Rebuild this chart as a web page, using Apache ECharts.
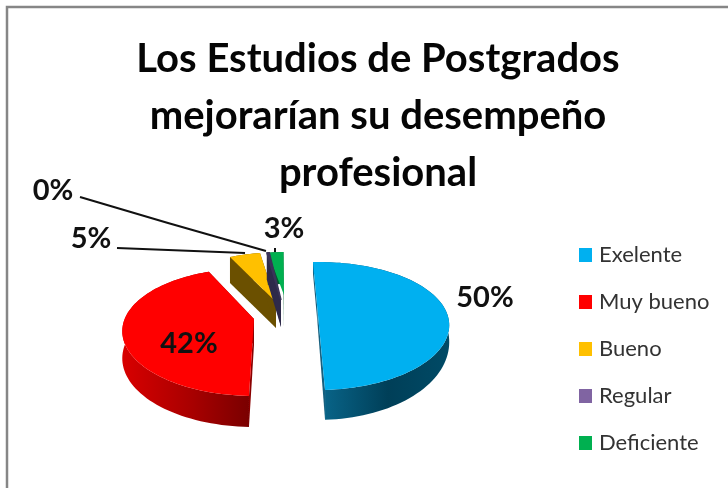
<!DOCTYPE html>
<html><head><meta charset="utf-8">
<style>html,body{margin:0;padding:0;background:#fff}#c{width:728px;height:488px}</style>
<script src="https://cdn.jsdelivr.net/npm/echarts@6/dist/echarts.min.js"></script>
</head><body><div id="c"></div>
<script>
const titleLines = ['Los Estudios de Postgrados','mejorarían su desempeño','profesional'];
const categories = ['Exelente','Muy bueno','Bueno','Regular','Deficiente'];
const values = [50,42,5,0.4,2.6];
const colors = ['#00B0F0','#FF0000','#FFC000','#8064A2','#00B050'];
const startAngle = -2.7;

// Drawing layout of the exploded, tilted pie
const R = 128, Ry = 64, K = 0.25;
const layout = [
 {cx:317.5,cy:310,tip:[317.5,310],d0:13,d1:17,rot:0,z:2,face:'#17607f',wall:['#0a6a90','#003f58','#004a66']},
 {cx:254,cy:316,tip:[254,319],d0:26,d1:5,rot:4.5,z:2,face:'#8a0000',wall:['#d80000','#a80000','#7a0000']},
 {cx:282.6,cy:300,tip:[276,302],d0:26,d1:0,rot:0,z:3,face:'#6b5000',wall:['#6b5000','#6b5000','#6b5000']},
 {cx:289.5,cy:300,tip:[281,300],d0:27,d1:0,rot:0,z:5,face:'#2e2a4a',wall:['#2e2a4a','#2e2a4a','#2e2a4a'],top:'#3a3358',edge:1.5},
 {cx:288,cy:300,tip:[284,295],d0:32,d1:0,rot:0,z:4,face:'#00592c',wall:['#00592c','#00592c','#00592c'],hideFirst:true}
];
const labelPos = [
 {x:485,y:298},{x:189,y:344},{x:91,y:239,line:[[117,248],[245,253]]},
 {x:53,y:191,line:[[80,197],[168,223],[266,251]]},{x:284,y:229,line:[[275,248],[275,252]]}
];
const total = values.reduce((a,b)=>a+b,0);
const starts = []; values.reduce((a,v,i)=>(starts[i]=a,a+v/total*360),startAngle);

function rimPoint(l,deg){
  const t=deg*Math.PI/180,X=Math.sin(t),Y=-Math.cos(t),f=1+K*Y;
  return {p:[l.cx+R*X*f,l.cy+Ry*Y*f],d:Math.max(l.d0+l.d1*Y,l.d0*0.9)};
}
function renderSlice(idx){
  return function(params,api){
    const v=api.value(0), l=layout[idx], a0=starts[idx]+l.rot, sweep=v/total*360;
    const n=Math.max(3,Math.ceil(sweep/2)), rim=[];
    for(let i=0;i<=n;i++) rim.push(rimPoint(l,a0+sweep*i/n));
    const top=rim.map(r=>r.p);
    const tipLow=[l.tip[0],l.tip[1]+l.d0];
    const low=rim.map(r=>[r.p[0],r.p[1]+r.d]);
    const first=rim[0],last=rim[n];
    const poly=(points,fill,stroke,lw)=>({type:'polygon',shape:{points},style:{fill,stroke:stroke||null,lineWidth:lw||0}});
    const wallFill={type:'linear',x:0,y:0,x2:1,y2:0,colorStops:[
      {offset:0,color:l.wall[0]},{offset:0.55,color:l.wall[1]},{offset:1,color:l.wall[2]}]};
    const children=[];
    if(!l.hideFirst) children.push(poly([first.p,l.tip,tipLow,low[0]],l.face));
    children.push(poly([last.p,l.tip,tipLow,low[n]],l.face));
    children.push(poly(top.concat(low.slice().reverse()),wallFill));
    const fill=l.top||colors[idx];
    children.push(poly(top.concat([l.tip]),fill,l.edge?fill:null,l.edge));
    const lp=labelPos[idx];
    if(lp.line) children.push({type:'polyline',shape:{points:lp.line},style:{fill:null,stroke:'#111',lineWidth:2}});
    children.push({type:'text',x:lp.x,y:lp.y,style:{text:Math.round(v/total*100)+'%',
      font:'700 29px Lato',fill:'#111',align:'center',verticalAlign:'middle'}});
    return {type:'group',children};
  };
}
const series=categories.map((name,i)=>({
  type:'custom',name,coordinateSystem:'none',silent:true,animation:false,clip:false,z:layout[i].z,
  itemStyle:{color:colors[i]},data:[[values[i]]],renderItem:renderSlice(i)
}));
const chart=echarts.init(document.getElementById('c'),null,{renderer:'canvas'});
chart.setOption({
  animation:false,backgroundColor:'#fff',
  title:{text:titleLines.join('\n'),left:373,top:26,textAlign:'center',
    textStyle:{fontFamily:'Lato',fontWeight:700,fontSize:40,lineHeight:57,color:'#050505'}},
  legend:{orient:'vertical',left:574,top:239,itemWidth:13,itemHeight:14,itemGap:25,icon:'rect',
    textStyle:{fontFamily:'Lato',fontSize:22,color:'#333',padding:[0,0,0,2]},data:categories},
  graphic:[{type:'polyline',shape:{points:[[7,488],[7,7],[728,7]]},
    style:{fill:null,stroke:'#868686',lineWidth:2.5}}],
  series
});
</script></body></html>
